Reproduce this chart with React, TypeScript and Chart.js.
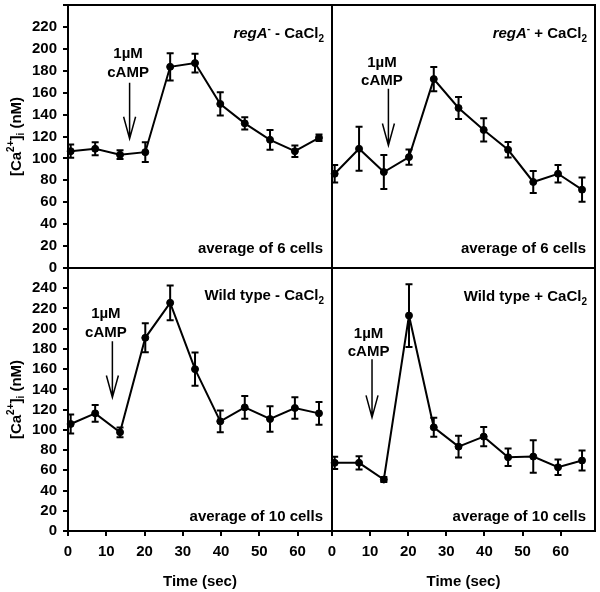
import React, { useEffect, useRef } from "react";
import { Chart, registerables } from "chart.js";
Chart.register(...registerables);

const FONT = "'Liberation Sans', Arial, Helvetica, sans-serif";

// ---- data ----
const timeSec = [0.7, 7.1, 13.6, 20.2, 26.7, 33.2, 39.8, 46.2, 52.8, 59.3, 65.6];

const regAMinusCaCl2 = [106.6, 108.8, 103.4, 105.7, 183.6, 187, 149.7, 132, 117, 106.6, 118.8];
const regAMinusCaCl2Err = [6, 6, 4, 9, 12.4, 8.6, 10.6, 5.5, 9, 5.3, 3];

const regAPlusCaCl2 = [86, 108.8, 87.6, 101.2, 172.4, 146, 126, 107.9, 78.5, 86, 71.5];
const regAPlusCaCl2Err = [8, 20, 15.6, 7, 11, 10, 10.6, 7, 10, 8, 11];

const wtMinusCaCl2 = [105.8, 116.3, 97.6, 191, 225.6, 160, 108.4, 122.2, 110.7, 121.6, 116.3];
const wtMinusCaCl2Err = [9.4, 8.2, 4.8, 14.3, 17.2, 16.4, 10.7, 11.2, 12.6, 10.7, 11.2];

const wtPlusCaCl2 = [67.4, 67.4, 50.9, 213, 102.5, 83.4, 93.3, 72.9, 73.6, 63, 69.7];
const wtPlusCaCl2Err = [6, 6.6, 2.5, 31, 9.4, 10.7, 9.5, 8.7, 16, 7.7, 9.9];

const topYMax = 240;
const bottomYMax = 260;
const yStep = 20;
const xMax = 69;
const xStep = 10;

// cAMP arrow annotations (TL, TR, BL, BR)
const arrowTime = [16.1, 14.8, 11.6, 10.5];
const arrowTopVal = [169, 163.6, 187.6, 169.8];
const arrowBottomVal = [118, 111.8, 132, 112.3];
const labelTime = [15.7, 13.1, 9.9, 9.6];
const labelLine1Val = [195.5, 187.3, 214.5, 194.8];
const labelLine2Val = [178, 171, 195.8, 177.3];

const avgLabels = ["average of 6 cells", "average of 6 cells", "average of 10 cells", "average of 10 cells"];

type Seg = { text: string; italic?: boolean; sup?: boolean; sub?: boolean };

const titles: Seg[][] = [
  [{ text: "regA", italic: true }, { text: "-", sup: true }, { text: " - CaCl" }, { text: "2", sub: true }],
  [{ text: "regA", italic: true }, { text: "-", sup: true }, { text: " + CaCl" }, { text: "2", sub: true }],
  [{ text: "Wild type - CaCl" }, { text: "2", sub: true }],
  [{ text: "Wild type + CaCl" }, { text: "2", sub: true }],
];

const yTitle: Seg[] = [
  { text: "[Ca" }, { text: "2+", sup: true }, { text: "]" }, { text: "i", sub: true }, { text: " (nM)" },
];

function drawRich(ctx: CanvasRenderingContext2D, segs: Seg[], x: number, baseline: number, align: "right" | "center", size: number) {
  const fontFor = (s: Seg) =>
    `${s.italic ? "italic " : ""}bold ${s.sup || s.sub ? Math.round(size * 0.68) : size}px ${FONT}`;
  let total = 0;
  for (const s of segs) {
    ctx.font = fontFor(s);
    total += ctx.measureText(s.text).width;
  }
  let cx = align === "right" ? x - total : x - total / 2;
  ctx.textAlign = "left";
  ctx.textBaseline = "alphabetic";
  for (const s of segs) {
    ctx.font = fontFor(s);
    const dy = s.sup ? -size * 0.42 : s.sub ? size * 0.25 : 0;
    ctx.fillText(s.text, cx, baseline + dy);
    cx += ctx.measureText(s.text).width;
  }
}

interface PanelSpec {
  idx: number;
  values: number[];
  errs: number[];
  yMax: number;
  left: number;
  top: number;
  width: number;
  height: number;
  padding: { left: number; top: number; right: number; bottom: number };
  showY: boolean;
  showX: boolean;
  titleDy: number;
  avgDy: number;
}

const panels: PanelSpec[] = [
  { idx: 0, values: regAMinusCaCl2, errs: regAMinusCaCl2Err, yMax: topYMax, left: 0, top: 0, width: 345, height: 285,
    padding: { left: 0, top: 5, right: 13, bottom: 17 }, showY: true, showX: false, titleDy: 28, avgDy: -20 },
  { idx: 1, values: regAPlusCaCl2, errs: regAPlusCaCl2Err, yMax: topYMax, left: 315, top: 0, width: 285, height: 285,
    padding: { left: 17, top: 5, right: 5, bottom: 17 }, showY: false, showX: false, titleDy: 28, avgDy: -20 },
  { idx: 2, values: wtMinusCaCl2, errs: wtMinusCaCl2Err, yMax: bottomYMax, left: 0, top: 255, width: 345, height: 337,
    padding: { left: 0, top: 13, right: 13, bottom: 0 }, showY: true, showX: true, titleDy: 27, avgDy: -15 },
  { idx: 3, values: wtPlusCaCl2, errs: wtPlusCaCl2Err, yMax: bottomYMax, left: 315, top: 255, width: 285, height: 337,
    padding: { left: 17, top: 13, right: 5, bottom: 0 }, showY: false, showX: true, titleDy: 28, avgDy: -15 },
];

function Panel({ spec }: { spec: PanelSpec }) {
  const ref = useRef<HTMLCanvasElement | null>(null);
  useEffect(() => {
    if (!ref.current) return;
    const i = spec.idx;
    const tickFont = { family: FONT, size: 15, weight: "bold" as const };
    const decor = {
      id: "decor" + i,
      beforeDatasetsDraw(chart: any) {
        const ctx = chart.ctx as CanvasRenderingContext2D;
        const xs = chart.scales.x, ys = chart.scales.y;
        ctx.save();
        ctx.strokeStyle = "#000";
        ctx.lineWidth = 2;
        spec.values.forEach((v, k) => {
          const px = xs.getPixelForValue(timeSec[k]);
          const y1 = ys.getPixelForValue(v + spec.errs[k]);
          const y2 = ys.getPixelForValue(v - spec.errs[k]);
          ctx.beginPath();
          ctx.moveTo(px, y1); ctx.lineTo(px, y2);
          ctx.moveTo(px - 3.5, y1); ctx.lineTo(px + 3.5, y1);
          ctx.moveTo(px - 3.5, y2); ctx.lineTo(px + 3.5, y2);
          ctx.stroke();
        });
        ctx.restore();
      },
      afterDraw(chart: any) {
        const ctx = chart.ctx as CanvasRenderingContext2D;
        const ca = chart.chartArea;
        const xs = chart.scales.x, ys = chart.scales.y;
        ctx.save();
        ctx.strokeStyle = "#000";
        ctx.fillStyle = "#000";
        ctx.lineWidth = 2;
        ctx.strokeRect(ca.left, ca.top, ca.right - ca.left, ca.bottom - ca.top);

        // panel title
        drawRich(ctx, titles[i], ca.right - 8, ca.top + spec.titleDy + 5, "right", 15);
        // average label
        drawRich(ctx, [{ text: avgLabels[i] }], ca.right - 9, ca.bottom + spec.avgDy + 5, "right", 15);

        // cAMP annotation
        ctx.font = `bold 15px ${FONT}`;
        ctx.textAlign = "center";
        ctx.textBaseline = "middle";
        const lx = xs.getPixelForValue(labelTime[i]);
        ctx.fillText("1µM", lx, ys.getPixelForValue(labelLine1Val[i]));
        ctx.fillText("cAMP", lx, ys.getPixelForValue(labelLine2Val[i]));
        const ax = xs.getPixelForValue(arrowTime[i]);
        const at = ys.getPixelForValue(arrowTopVal[i]);
        const ab = ys.getPixelForValue(arrowBottomVal[i]);
        ctx.lineWidth = 1.5;
        ctx.beginPath();
        ctx.moveTo(ax, at); ctx.lineTo(ax, ab);
        ctx.moveTo(ax - 6, ab - 22); ctx.lineTo(ax, ab); ctx.lineTo(ax + 6, ab - 22);
        ctx.stroke();

        // y axis title
        if (spec.showY) {
          ctx.translate(15, (ca.top + ca.bottom) / 2);
          ctx.rotate(-Math.PI / 2);
          drawRich(ctx, yTitle, 0, 5.5, "center", 15);
        }
        ctx.restore();
      },
    };

    const chart = new Chart(ref.current, {
      type: "line",
      data: {
        datasets: [
          {
            data: timeSec.map((t, k) => ({ x: t, y: spec.values[k] })),
            borderColor: "#000",
            backgroundColor: "#000",
            borderWidth: 2,
            pointRadius: 3.5,
            pointBackgroundColor: "#000",
            pointBorderColor: "#000",
            pointBorderWidth: 1,
            tension: 0,
            clip: false as any,
          },
        ],
      },
      options: {
        animation: false,
        responsive: false,
        devicePixelRatio: 1,
        events: [],
        layout: { padding: spec.padding, autoPadding: false },
        plugins: { legend: { display: false }, tooltip: { enabled: false } },
        scales: {
          x: {
            type: "linear",
            min: 0,
            max: xMax,
            display: spec.showX,
            ticks: { stepSize: xStep, includeBounds: false, color: "#000", font: tickFont, padding: 7, maxRotation: 0, autoSkip: false },
            grid: { drawOnChartArea: false, tickLength: 5, lineWidth: 2, color: "#000" },
            border: { color: "#000", width: 2 },
            title: { display: true, text: "Time (sec)", color: "#000", font: tickFont, padding: { top: 0, bottom: 1 } },
            afterFit: (s: any) => {
              if (spec.showX) s.height = 61;
              s.paddingLeft = 0;
              s.paddingRight = 0;
            },
          },
          y: {
            type: "linear",
            min: 0,
            max: spec.yMax,
            display: spec.showY,
            ticks: {
              stepSize: yStep,
              includeBounds: false,
              color: "#000",
              font: tickFont,
              padding: 6,
              autoSkip: false,
              callback: (v: any) => (Number(v) >= spec.yMax ? "" : String(v)),
            },
            grid: { drawOnChartArea: false, tickLength: 5, lineWidth: 2, color: "#000" },
            border: { color: "#000", width: 2 },
            afterFit: (s: any) => {
              if (spec.showY) s.width = 68;
              s.paddingTop = 0;
              s.paddingBottom = 0;
            },
          },
        },
      } as any,
      plugins: [decor],
    });
    return () => chart.destroy();
  }, [spec]);

  return (
    <canvas
      ref={ref}
      width={spec.width}
      height={spec.height}
      style={{ position: "absolute", left: spec.left, top: spec.top, width: spec.width, height: spec.height }}
    />
  );
}

export default function App() {
  return (
    <div style={{ position: "fixed", left: 0, top: 0, width: 600, height: 592, background: "#fff", overflow: "hidden" }}>
      {panels.map((p) => (
        <Panel key={p.idx} spec={p} />
      ))}
    </div>
  );
}
